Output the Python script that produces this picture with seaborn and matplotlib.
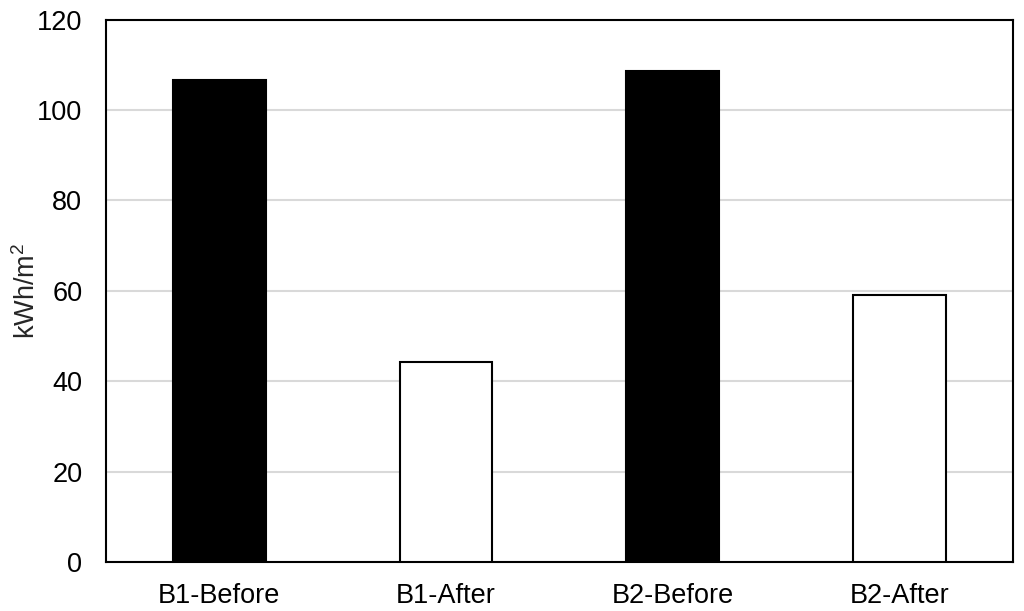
import matplotlib
matplotlib.use("Agg")
import matplotlib.pyplot as plt
import seaborn as sns

# ── Data ───────────────────────────────────────────────────────────────────────
categories = ["B1-Before", "B1-After", "B2-Before", "B2-After"]
values = [106.6, 44.3, 108.7, 59.1]
bar_colors = ["black", "white", "black", "white"]

sns.set_theme(style="white")
plt.rcParams["font.family"] = ["Liberation Sans", "DejaVu Sans"]
plt.rcParams["mathtext.fontset"] = "custom"
plt.rcParams["mathtext.rm"] = "Liberation Sans"
plt.rcParams["mathtext.it"] = "Liberation Sans"

fig = plt.figure(figsize=(10.24, 6.11), dpi=100)
ax = fig.add_axes([0.1035, 0.080, 0.8855, 0.888])

sns.barplot(x=categories, y=values, hue=categories, palette=bar_colors,
            edgecolor="black", linewidth=1.5, width=0.41, legend=False,
            saturation=1, ax=ax, zorder=3)

ax.set_ylim(0, 120)
ax.set_yticks(range(0, 121, 20))
ax.yaxis.grid(True, color="#d9d9d9", linewidth=1.5, zorder=0)
ax.set_axisbelow(True)
ax.set_ylabel(r"kWh/m$^{2}$", fontsize=19.5)
ax.yaxis.set_label_coords(-0.072, 0.5)
ax.set_xlabel("")
ax.tick_params(axis="both", length=0, labelsize=19.5, colors="black")
ax.tick_params(axis="x", pad=15)
ax.tick_params(axis="y", pad=17)

for sp in ax.spines.values():
    sp.set_color("black")
    sp.set_linewidth(1.5)

fig.savefig("out.png", dpi=100)
